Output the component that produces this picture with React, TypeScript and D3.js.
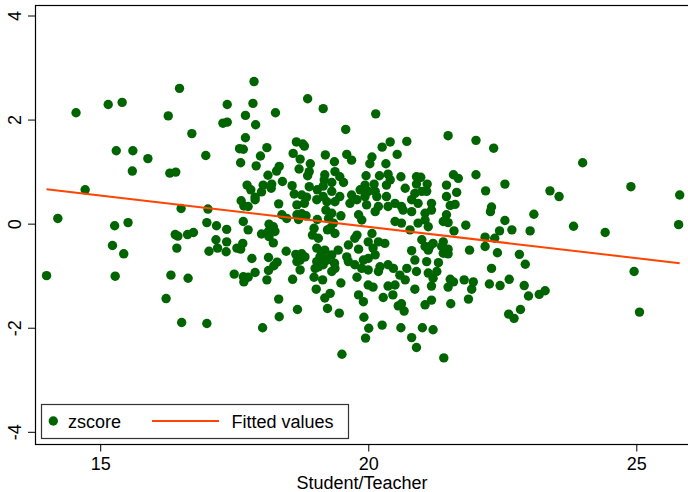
import React from 'react';
import * as d3 from 'd3';

// [student/teacher ratio, zscore], grouped by region
const westPoints: [number, number][] = [
  [16.47, 2.61], [15.14, 2.30], [15.40, 2.34], [14.54, 2.14], [16.26, 2.08], [16.70, 1.74], [15.29, 1.41], [15.60, 1.41],
  [15.88, 1.26], [16.96, 1.32], [15.59, 1.02], [16.29, 0.98], [16.40, 1.00], [14.71, 0.66], [14.20, 0.11], [16.50, 0.30],
  [17.00, 0.29], [15.26, -0.03], [15.51, 0.03], [16.98, 0.03], [17.16, -0.03], [16.39, -0.20], [16.44, -0.23], [16.62, -0.20],
  [16.73, -0.16], [15.22, -0.41], [15.43, -0.57], [16.42, -0.46], [17.15, -0.30], [17.02, -0.52], [17.18, -0.46], [13.99, -0.99],
  [15.27, -1.00], [16.31, -0.98], [16.63, -1.04], [16.22, -1.43], [16.51, -1.89], [16.98, -1.91],
];

const midLeftPoints: [number, number][] = [
  [17.86, 2.74], [17.36, 2.30], [17.84, 2.32], [18.86, 2.41], [19.15, 2.22], [18.26, 2.14], [17.70, 2.09], [17.28, 1.94],
  [17.36, 1.96], [17.89, 1.91], [17.70, 1.66], [18.65, 1.58], [18.77, 1.54], [18.80, 1.50], [17.59, 1.45], [17.66, 1.44],
  [18.10, 1.47], [18.59, 1.36], [17.98, 1.31], [18.72, 1.25], [19.19, 1.33], [17.61, 1.18], [17.90, 1.12], [18.33, 1.11],
  [18.28, 1.02], [18.91, 1.16], [18.70, 1.06], [18.89, 1.01], [18.86, 0.93], [19.18, 0.95], [19.17, 0.85], [18.12, 0.94],
  [18.39, 0.82], [17.73, 0.75], [17.80, 0.66], [18.03, 0.75], [18.19, 0.77], [18.18, 0.69], [18.00, 0.62], [18.57, 0.74],
  [18.61, 0.58], [18.89, 0.72], [19.04, 0.66], [19.15, 0.73], [17.88, 0.52], [18.75, 0.56], [18.84, 0.52], [18.80, 0.40],
  [19.03, 0.47], [19.15, 0.53], [19.22, 0.43], [17.62, 0.45], [17.67, 0.35], [18.32, 0.39], [18.66, 0.37], [17.75, 0.34],
  [17.88, 0.47], [17.66, 0.05], [17.35, -0.10], [17.75, -0.11], [18.00, -0.19], [18.14, 0.00], [18.22, -0.05], [18.13, -0.14],
  [18.25, -0.14], [18.14, -0.24], [18.22, -0.36], [18.38, 0.18], [18.47, 0.11], [18.66, 0.18], [18.75, 0.20], [18.83, 0.16],
  [18.69, 0.09], [19.04, 0.09], [19.20, 0.27], [18.98, -0.08], [18.95, -0.21], [19.06, -0.27], [19.23, -0.11], [17.35, -0.34],
  [17.34, -0.53], [17.65, -0.37], [17.54, -0.46], [17.61, -0.48], [18.46, -0.52], [19.03, -0.46], [19.12, -0.53], [17.82, -0.66],
  [18.13, -0.64], [18.29, -0.73], [18.23, -0.80], [18.64, -0.58], [18.75, -0.57], [18.72, -0.69], [18.81, -0.63], [18.66, -0.72],
  [18.72, -0.88], [19.03, -0.72], [19.09, -0.63], [19.18, -0.66], [19.00, -0.85], [19.06, -0.82], [19.15, -0.78], [18.13, -0.89],
  [18.10, -1.07], [17.88, -0.93], [17.49, -0.96], [17.66, -1.01], [17.67, -1.11], [17.75, -1.02], [18.58, -1.06], [18.98, -1.02],
  [19.14, -1.07], [19.02, -1.25], [19.18, -1.42], [19.23, -1.62], [18.32, -1.44], [18.67, -1.64], [18.33, -1.78], [18.02, -1.99],
];

const midRightPoints: [number, number][] = [
  [20.13, 2.12], [19.57, 1.82], [20.40, 1.58], [20.25, 1.48], [20.71, 1.59], [20.53, 1.34], [19.36, 1.20], [19.59, 1.34],
  [19.68, 1.23], [20.06, 1.29], [20.02, 1.16], [20.32, 1.16], [19.37, 1.01], [19.46, 0.91], [19.31, 0.80], [19.53, 0.80],
  [19.95, 0.93], [20.20, 0.93], [20.36, 0.96], [20.40, 0.85], [20.60, 0.91], [20.89, 0.91], [20.97, 0.90], [20.89, 0.77],
  [20.10, 0.77], [19.93, 0.75], [19.84, 0.66], [19.99, 0.63], [20.12, 0.63], [20.33, 0.75], [20.68, 0.69], [21.09, 0.77],
  [21.08, 0.63], [20.86, 0.59], [20.99, 0.63], [19.31, 0.63], [19.46, 0.53], [19.37, 0.43], [19.68, 0.56], [19.78, 0.47],
  [19.93, 0.53], [20.15, 0.53], [20.33, 0.53], [20.49, 0.40], [20.61, 0.34], [20.80, 0.47], [20.92, 0.40], [21.17, 0.40],
  [19.65, 0.40], [19.96, 0.37], [20.18, 0.34], [20.36, 0.34], [19.31, 0.21], [19.48, 0.16], [19.25, 0.11], [19.34, 0.02],
  [19.81, 0.18], [20.12, 0.24], [19.87, 0.08], [20.64, 0.27], [20.80, 0.24], [21.05, 0.21], [21.17, 0.27], [20.49, 0.05],
  [20.61, 0.02], [20.77, -0.11], [20.92, 0.02], [21.05, 0.08], [21.11, -0.05], [19.28, -0.08], [19.37, -0.18], [19.78, -0.21],
  [19.74, -0.27], [20.06, -0.18], [19.99, -0.34], [20.18, -0.34], [20.30, -0.37], [20.08, -0.46], [20.12, -0.59], [19.99, -0.66],
  [19.90, -0.69], [19.62, -0.40], [19.43, -0.50], [19.18, -0.50], [19.31, -0.59], [19.22, -0.69], [19.59, -0.63], [19.62, -0.72],
  [19.74, -0.78], [19.81, -0.48], [20.99, -0.30], [21.05, -0.43], [21.11, -0.50], [21.20, -0.37], [20.80, -0.51], [20.86, -0.69],
  [21.08, -0.72], [19.36, -0.75], [19.37, -0.85], [19.31, -0.91], [19.87, -0.85], [19.99, -0.88], [20.21, -0.82], [20.18, -0.91],
  [20.36, -0.78], [20.46, -0.85], [20.71, -0.85], [20.58, -0.98], [20.68, -1.07], [20.89, -0.91], [21.11, -0.94], [21.20, -1.04],
  [19.48, -1.13], [19.78, -1.02], [19.99, -1.17], [20.08, -1.21], [20.36, -1.19], [20.49, -1.17], [20.86, -1.25], [21.17, -1.19],
  [19.28, -1.33], [19.81, -1.36], [19.90, -1.49], [20.27, -1.41], [20.45, -1.36], [20.55, -1.57], [20.66, -1.67], [20.61, -1.53],
  [21.05, -1.55], [21.17, -1.46], [19.45, -1.71], [19.91, -1.79], [20.00, -2.00], [19.94, -2.19], [20.25, -1.94], [20.60, -1.99],
  [21.00, -1.99], [21.20, -2.03], [20.80, -2.18], [20.89, -2.37], [19.50, -2.50],
];

const eastPoints: [number, number][] = [
  [21.48, 1.70], [22.00, 1.61], [22.33, 1.46], [21.58, 0.95], [21.67, 0.88], [22.00, 0.95], [22.54, 0.77], [21.45, 0.75],
  [21.64, 0.61], [22.18, 0.64], [21.45, 0.53], [21.52, 0.36], [21.61, 0.38], [22.29, 0.33], [22.27, 0.24], [23.08, 0.19],
  [21.45, 0.18], [21.39, 0.05], [21.48, 0.03], [21.81, -0.02], [22.54, 0.07], [22.44, -0.13], [22.67, -0.11], [23.01, -0.13],
  [21.59, -0.13], [22.17, -0.25], [22.35, -0.27], [22.17, -0.43], [21.39, -0.34], [21.36, -0.43], [21.48, -0.48], [21.39, -0.56],
  [21.48, -0.57], [21.14, -0.43], [21.88, -0.50], [22.40, -0.55], [22.81, -0.58], [22.92, -0.77], [21.30, -0.74], [21.27, -0.91],
  [22.29, -0.85], [21.52, -1.06], [21.58, -1.11], [21.48, -1.21], [21.78, -1.07], [21.95, -1.11], [21.92, -1.25], [22.25, -1.15],
  [22.45, -1.18], [22.62, -1.06], [22.90, -1.18], [22.98, -1.38], [23.18, -1.35], [21.86, -1.44], [21.53, -1.53], [22.83, -1.64],
  [22.61, -1.73], [22.71, -1.81], [21.40, -2.57], [23.99, 1.18], [24.89, 0.72], [25.80, 0.56], [23.38, 0.64], [23.55, 0.53],
  [23.82, -0.04], [24.41, -0.16], [25.78, -0.01], [24.95, -0.91], [23.29, -1.28], [25.05, -1.69],
];

// fitted values at the ends of the data range
const fitX = [13.99, 25.8];
const fitY = [0.67, -0.75];

const xTicks = [15, 20, 25];
const yTicks = [-4, -2, 0, 2, 4];

const font = 'Liberation Sans, Arial, Helvetica, sans-serif';
const green = '#006400';
const orange = '#ff4500';

export default function App() {
  const width = 688;
  const height = 492;
  const frame = { left: 35.5, top: 5.5, bottom: 444.5, right: 700 };

  const x = d3.scaleLinear().domain([15, 25]).range([100.7, 636.8]);
  const y = d3.scaleLinear().domain([-4, 4]).range([432.3, 16]);

  const points = [...westPoints, ...midLeftPoints, ...midRightPoints, ...eastPoints];

  const fitLine = d3
    .line<number>()
    .x((d) => x(fitX[d]))
    .y((d) => y(fitY[d]));

  return (
    <svg
      width={width}
      height={height}
      style={{ position: 'absolute', left: 0, top: 0, background: '#fff' }}
      fontFamily={font}
    >
      <rect
        x={frame.left}
        y={frame.top}
        width={frame.right - frame.left}
        height={frame.bottom - frame.top}
        fill="#fff"
        stroke="#000"
        strokeWidth={1.2}
      />

      {/* y axis */}
      {yTicks.map((t) => (
        <g key={'y' + t}>
          <line x1={28} x2={frame.left} y1={y(t)} y2={y(t)} stroke="#000" strokeWidth={1} />
          <text
            transform={`translate(21,${y(t)}) rotate(-90)`}
            textAnchor="middle"
            fontSize={18}
            fill="#000"
          >
            {t}
          </text>
        </g>
      ))}

      {/* x axis */}
      {xTicks.map((t) => (
        <g key={'x' + t}>
          <line x1={x(t)} x2={x(t)} y1={frame.bottom} y2={frame.bottom + 7} stroke="#000" strokeWidth={1} />
          <text x={x(t)} y={470} textAnchor="middle" fontSize={18} fill="#000">
            {t}
          </text>
        </g>
      ))}
      <text x={362} y={489} textAnchor="middle" fontSize={18} fill="#000">
        Student/Teacher
      </text>

      {/* points */}
      <g fill={green}>
        {points.map((p, i) => (
          <circle key={i} cx={x(p[0])} cy={y(p[1])} r={4.7} />
        ))}
      </g>

      {/* fitted values */}
      <path d={fitLine([0, 1]) || ''} fill="none" stroke={orange} strokeWidth={2} />

      {/* legend */}
      <rect x={41.5} y={404.5} width={307} height={34} fill="#fff" stroke="#333" strokeWidth={1.2} />
      <circle cx={53.3} cy={421} r={4.7} fill={green} />
      <text x={68} y={427.5} fontSize={18} fill="#000">
        zscore
      </text>
      <line x1={152} x2={219} y1={421} y2={421} stroke={orange} strokeWidth={2} />
      <text x={231.5} y={427.5} fontSize={18} fill="#000">
        Fitted values
      </text>
    </svg>
  );
}
